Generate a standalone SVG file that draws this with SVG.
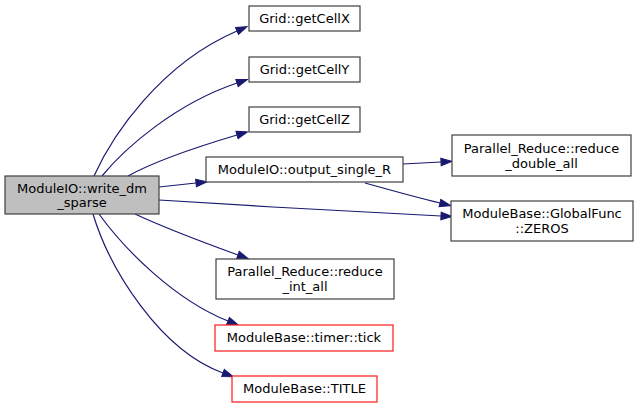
<svg xmlns="http://www.w3.org/2000/svg" width="639" height="408" viewBox="0 0 639 408">
<defs>
<style>
.node rect{fill:#fff;stroke:#404040;stroke-width:1.2}
.node.main rect{fill:#bfbfbf}
.node.red rect{stroke:#ff1a1a}
text{font-family:"DejaVu Sans","Liberation Sans",sans-serif;font-size:13px;fill:#000;text-anchor:middle}
.edges path{fill:none;stroke:#191970;stroke-width:1.2;marker-end:url(#arr)}
</style>
<marker id="arr" markerUnits="userSpaceOnUse" markerWidth="12" markerHeight="10" refX="0" refY="0" viewBox="0 -5 12 10" orient="auto" overflow="visible">
<path d="M0,-3.8 L11,0 L0,3.8 z" fill="#191970" stroke="#191970" stroke-width="1"/>
</marker>
</defs>
<rect width="639" height="408" fill="#fff"/>
<g id="edges" class="edges">
<path d="M94,176 C112,136 160,64 237,31"/>
<path d="M102,176 C125,148 175,104 237,83"/>
<path d="M128,176 C155,161 200,146 237,135"/>
<path d="M159,187 L196,183"/>
<path d="M159,200 C250,206 360,212 441,216"/>
<path d="M403,164 L441,162"/>
<path d="M365,183 C390,190 415,197 440,203"/>
<path d="M135,214 C165,228 205,243 238,255"/>
<path d="M99,214 C125,250 175,300 228,321"/>
<path d="M93,214 C110,270 160,350 223,373"/>
</g>
<g id="node_main" class="node main"><rect x="5" y="176" width="154" height="38"/><text x="82" y="193">ModuleIO::write_dm</text><text x="82" y="207">_sparse</text></g>
<g id="node_getCellX" class="node"><rect x="249" y="6" width="111" height="25"/><text x="304.5" y="23">Grid::getCellX</text></g>
<g id="node_getCellY" class="node"><rect x="249" y="57" width="111" height="25"/><text x="304.5" y="74">Grid::getCellY</text></g>
<g id="node_getCellZ" class="node"><rect x="249" y="107" width="111" height="25"/><text x="304.5" y="124">Grid::getCellZ</text></g>
<g id="node_output_single_R" class="node"><rect x="206" y="157" width="197" height="25"/><text x="304.5" y="174">ModuleIO::output_single_R</text></g>
<g id="node_reduce_double_all" class="node"><rect x="452" y="135" width="179" height="41"/><text x="541.5" y="153">Parallel_Reduce::reduce</text><text x="541.5" y="168">_double_all</text></g>
<g id="node_ZEROS" class="node"><rect x="451" y="201" width="182" height="40"/><text x="542" y="218">ModuleBase::GlobalFunc</text><text x="542" y="233">::ZEROS</text></g>
<g id="node_reduce_int_all" class="node"><rect x="216" y="259" width="178" height="40"/><text x="305" y="276">Parallel_Reduce::reduce</text><text x="305" y="291">_int_all</text></g>
<g id="node_tick" class="node red"><rect x="215" y="325" width="178" height="26"/><text x="304" y="342">ModuleBase::timer::tick</text></g>
<g id="node_TITLE" class="node red"><rect x="232" y="376" width="145" height="26"/><text x="304.5" y="393">ModuleBase::TITLE</text></g>
</svg>
